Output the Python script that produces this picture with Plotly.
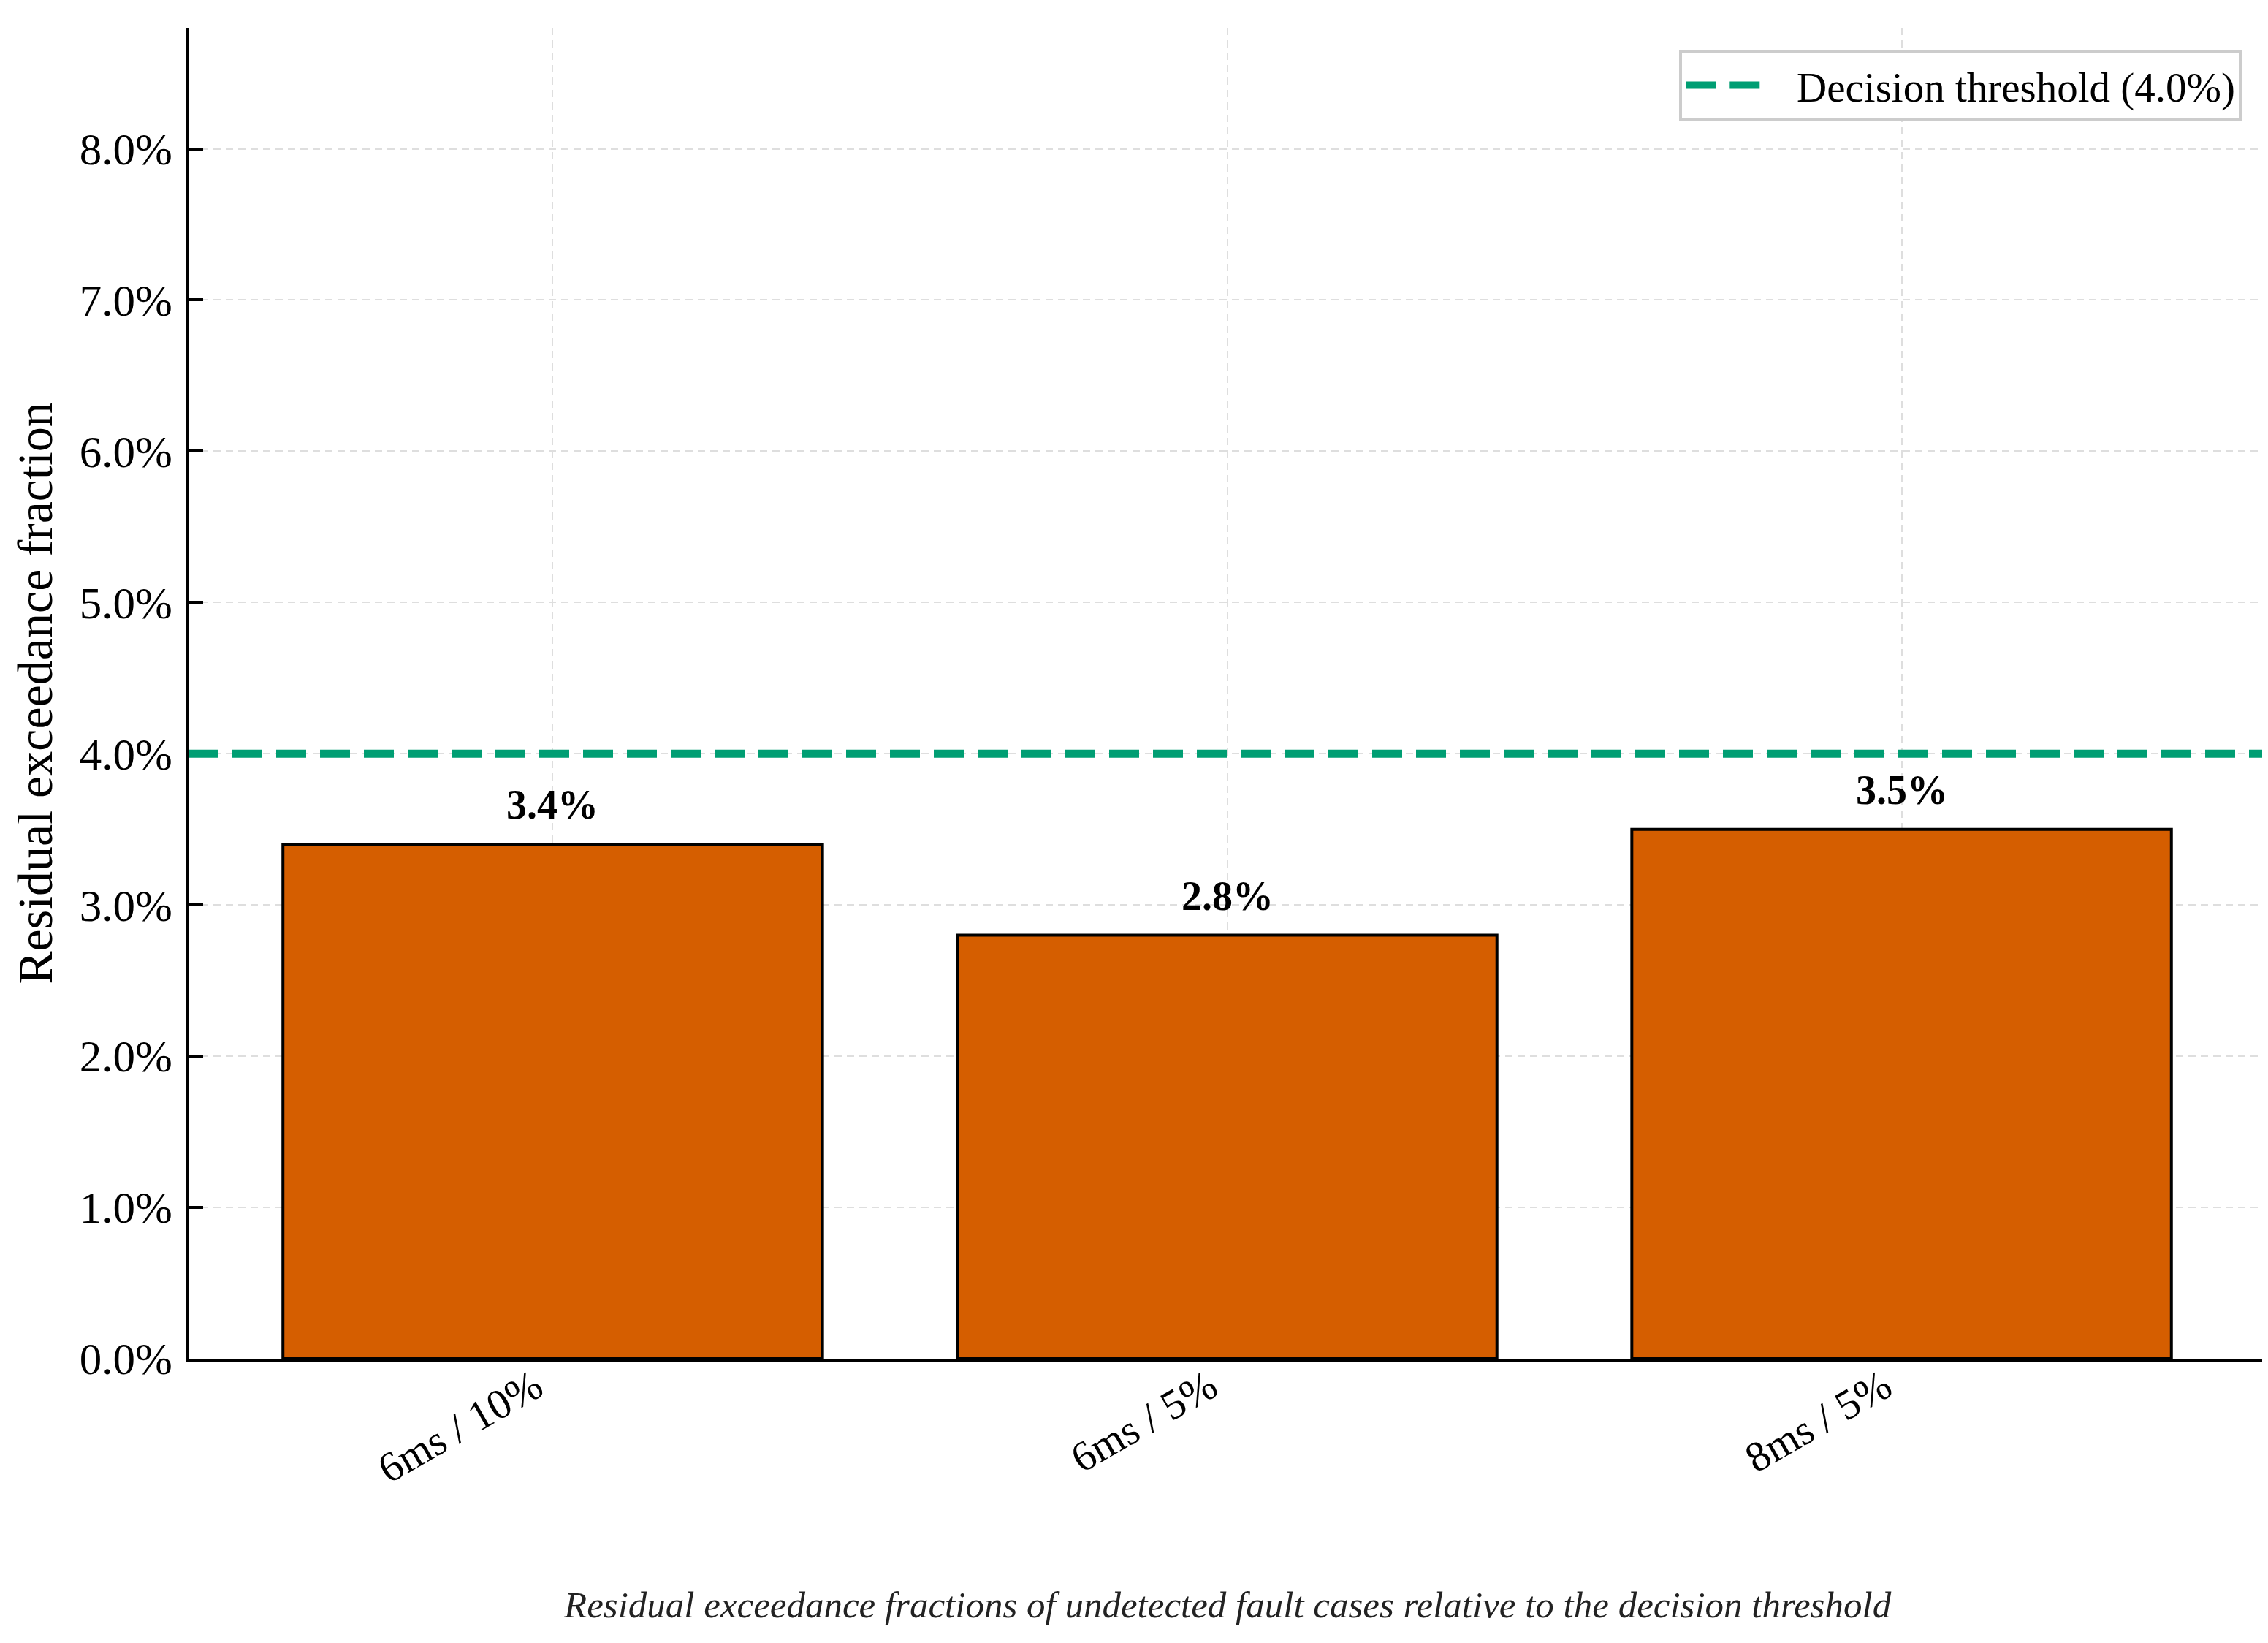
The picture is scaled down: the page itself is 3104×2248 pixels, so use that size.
import plotly.graph_objects as go

# data
configs = ["6ms / 10%", "6ms / 5%", "8ms / 5%"]
exceedance_pct = [3.4, 2.8, 3.5]
threshold_pct = 4.0
y_ticks = [0, 1, 2, 3, 4, 5, 6, 7, 8]

FONT = "Liberation Serif"
BAR_COLOR = "#D55E00"
LINE_COLOR = "#009E73"
GRID = "#dedede"

fig = go.Figure()

fig.add_trace(go.Bar(
    x=configs,
    y=exceedance_pct,
    width=0.8,
    marker=dict(color=BAR_COLOR, line=dict(color="black", width=4)),
    showlegend=False,
    hoverinfo="skip",
))

# threshold line spans the whole axis, drawn as a shape with legend entry
fig.add_shape(
    type="line", xref="x domain", yref="y",
    x0=0, x1=1, y0=threshold_pct, y1=threshold_pct,
    line=dict(color=LINE_COLOR, width=11, dash="41px,19px"),
    showlegend=True,
    name="\u00a0\u00a0\u00a0" + f"Decision threshold ({threshold_pct:.1f}%)",
)

# value labels above bars
for c, v in zip(configs, exceedance_pct):
    fig.add_annotation(
        x=c, y=v, text=f"<b>{v:.1f}%</b>", showarrow=False,
        yanchor="bottom", yshift=21,
        font=dict(family=FONT, size=56, color="black"),
    )

# caption under the chart
fig.add_annotation(
    xref="paper", yref="paper", x=0.5, y=-0.185, yanchor="middle",
    text="<i>Residual exceedance fractions of undetected fault cases relative to the decision threshold</i>",
    showarrow=False,
    font=dict(family=FONT, size=51, color="#222222"),
)

fig.update_layout(
    width=3104, height=2248, autosize=False,
    margin=dict(l=250, r=11, t=30, b=397),
    paper_bgcolor="white", plot_bgcolor="white",
    font=dict(family=FONT, color="black"),
    bargap=0.2,
    legend=dict(
        x=0.9885, y=0.983, xanchor="right", yanchor="top",
        bgcolor="white", bordercolor="#cccccc", borderwidth=4,
        font=dict(family=FONT, size=57, color="black"),
        itemwidth=104,
    ),
)

fig.update_xaxes(
    type="category",
    range=[-0.54, 2.54],
    showline=True, linecolor="black", linewidth=4,
    ticks="", tickangle=-30,
    ticklabelstandoff=-22, ticklabelshift=-24,
    tickfont=dict(family=FONT, size=58, color="black"),
    showgrid=True, gridcolor=GRID, gridwidth=2, griddash="10px,7px",
)

fig.update_yaxes(
    range=[0, 8.8],
    tickvals=y_ticks,
    ticktext=[f"{t:.1f}%" for t in y_ticks],
    showline=True, linecolor="black", linewidth=4,
    ticks="inside", ticklen=20, tickwidth=4, tickcolor="black",
    ticklabelstandoff=6,
    tickfont=dict(family=FONT, size=61, color="black"),
    showgrid=True, gridcolor=GRID, gridwidth=2, griddash="10px,7px",
    zeroline=False,
    title=dict(text="Residual exceedance fraction", standoff=16,
               font=dict(family=FONT, size=68, color="black")),
)

fig.write_html("out.html")
